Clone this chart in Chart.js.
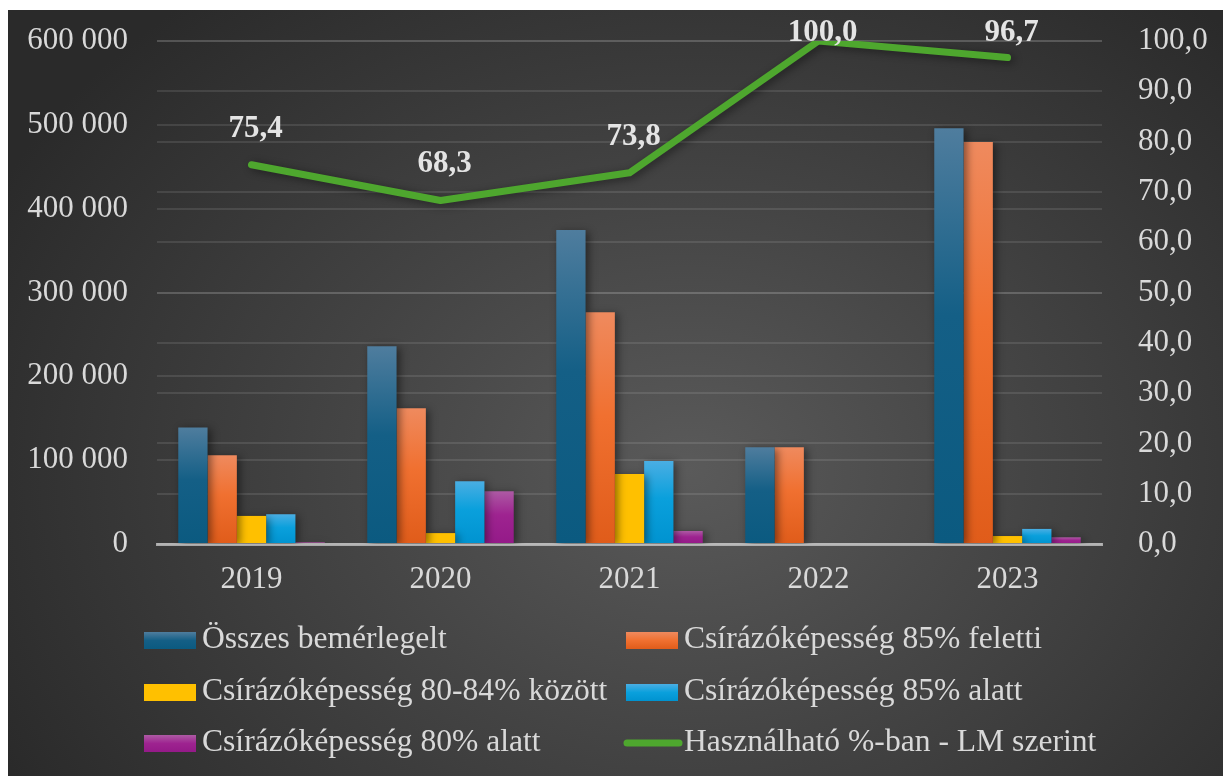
<!DOCTYPE html>
<html lang="hu">
<head>
<meta charset="utf-8">
<title>Vetőmag csírázóképesség</title>
<script src="https://cdn.jsdelivr.net/npm/chart.js@4/dist/chart.umd.min.js"></script>
<style>
  html, body { margin: 0; padding: 0; background: #fff; }
  #wrap {
    position: absolute; left: 8px; top: 10px; width: 1215px; height: 766px;
    background: radial-gradient(ellipse 64% 80% at 56% 60%, #5a5a5a 0%, #444 45%, #2a2a2a 100%);
  }
</style>
</head>
<body>
<div id="wrap"><canvas id="seedChart" width="1215" height="766"></canvas></div>
<script>
const years = ["2019", "2020", "2021", "2022", "2023"];
const osszesBemerlegelt = [139000, 236000, 374500, 115500, 496000];
const felett85 = [106000, 162000, 276500, 115500, 479500];
const kozott80_84 = [33500, 13000, 83500, 0, 9500];
const alatt85 = [35500, 75000, 99000, 0, 18000];
const alatt80 = [2000, 63000, 15500, 0, 8000];
const hasznalhatoLM = [75.4, 68.3, 73.8, 100.0, 96.7];

const FONT = "'Liberation Serif', 'Times New Roman', serif";
const TEXT = "#d9d9d9";

// vertical gradient per bar, light at the top
function barFill(stops) {
    return function (ctx) {
        const chart = ctx.chart;
        const y = chart.scales.y;
        if (ctx.type !== "data" || !chart.chartArea || !y) return stops[1];
        const top = y.getPixelForValue(ctx.raw);
        const bottom = y.getPixelForValue(0);
        if (!(bottom - top > 1)) return stops[1];
        const g = chart.ctx.createLinearGradient(0, top, 0, bottom);
        g.addColorStop(0, stops[0]);
        g.addColorStop(0.45, stops[1]);
        g.addColorStop(1, stops[2]);
        return g;
    };
}

const blue = ["#4f7d9e", "#145f86", "#0b5a80"];
const orange = ["#ef8a5e", "#f07030", "#e05c1a"];
const yellow = ["#ffc000", "#ffc000", "#ffc000"];
const cyan = ["#4aaee3", "#0aa0dc", "#0093d0"];
const purple = ["#ad5aa4", "#9e2390", "#941a88"];
const green = "#4ea72e";

function spaced(v) {
    return String(v).replace(/\B(?=(\d{3})+(?!\d))/g, " ");
}

// soft drop shadow under bars and the line
const shadowPlugin = {
    id: "shadow",
    beforeDatasetDraw(chart) {
        const c = chart.ctx;
        c.save();
        c.shadowColor = "rgba(0,0,0,0.45)";
        c.shadowBlur = 8;
        c.shadowOffsetX = 3;
        c.shadowOffsetY = 2;
    },
    afterDatasetDraw(chart) {
        chart.ctx.restore();
    }
};

// value labels above the line points
const lineLabels = {
    id: "lineLabels",
    afterDatasetsDraw(chart) {
        const c = chart.ctx;
        const idx = chart.data.datasets.findIndex(d => d.type === "line");
        const meta = chart.getDatasetMeta(idx);
        c.save();
        c.font = "bold 31px " + FONT;
        c.fillStyle = "#e4e4e4";
        c.textAlign = "center";
        c.textBaseline = "middle";
        meta.data.forEach((pt, i) => {
            const y = Math.max(pt.y - 36, chart.chartArea.top - 8);
            c.fillText(hasznalhatoLM[i].toFixed(1).replace(".", ","), pt.x + 4, y);
        });
        c.restore();
    }
};

// two-column legend under the plot
const gridLegend = {
    id: "gridLegend",
    afterDraw(chart) {
        const c = chart.ctx;
        const cols = [136, 618];
        const rows = [630, 682, 733];
        c.save();
        c.font = "31.6px " + FONT;
        c.fillStyle = TEXT;
        c.textBaseline = "middle";
        chart.data.datasets.forEach((ds, i) => {
            const x = cols[i % 2];
            const y = rows[Math.floor(i / 2)];
            if (ds.type === "line") {
                c.strokeStyle = ds.borderColor;
                c.lineWidth = 7;
                c.lineCap = "round";
                c.beginPath();
                c.moveTo(x + 1, y);
                c.lineTo(x + 53, y);
                c.stroke();
            } else {
                const g = c.createLinearGradient(0, y - 8, 0, y + 9);
                g.addColorStop(0, ds.swatch[0]);
                g.addColorStop(0.5, ds.swatch[1]);
                g.addColorStop(1, ds.swatch[2]);
                c.fillStyle = g;
                c.fillRect(x, y - 8, 52, 17);
            }
            c.fillStyle = TEXT;
            c.fillText(ds.label, x + 58, y);
        });
        c.restore();
    }
};

function bars(label, values, stops) {
    return {
        type: "bar",
        label: label,
        data: values,
        yAxisID: "y",
        backgroundColor: barFill(stops),
        swatch: stops,
        borderWidth: 0,
        categoryPercentage: 0.775,
        barPercentage: 1.0,
        order: 2
    };
}

new Chart(document.getElementById("seedChart"), {
    data: {
        labels: years,
        datasets: [
            bars("Összes bemérlegelt", osszesBemerlegelt, blue),
            bars("Csírázóképesség 85% feletti", felett85, orange),
            bars("Csírázóképesség 80-84% között", kozott80_84, yellow),
            bars("Csírázóképesség 85% alatt", alatt85, cyan),
            bars("Csírázóképesség 80% alatt", alatt80, purple),
            {
                type: "line",
                label: "Használható %-ban - LM szerint",
                data: hasznalhatoLM,
                yAxisID: "y2",
                borderColor: green,
                borderWidth: 7,
                borderCapStyle: "round",
                borderJoinStyle: "round",
                pointRadius: 0,
                tension: 0,
                order: 1
            }
        ]
    },
    options: {
        responsive: false,
        animation: false,
        layout: { padding: { top: 31, bottom: 172, left: 0, right: 0 } },
        plugins: {
            legend: { display: false },
            tooltip: { enabled: false }
        },
        scales: {
            x: {
                z: 1,
                grid: { display: false, drawTicks: false },
                border: { display: true, color: "rgba(215,215,215,0.7)", width: 3 },
                ticks: { color: TEXT, font: { family: FONT, size: 31 }, padding: 17 },
                afterFit(scale) { scale.height = 60; }
            },
            // the gap between plot and labels comes from an invisible tick mark,
            // so the tick padding does not push the plot area down
            y: {
                position: "left",
                min: 0,
                max: 600000,
                grid: { color: "rgba(255,255,255,0.1)", lineWidth: 2, tickLength: 29, tickColor: "transparent" },
                border: { display: false },
                ticks: {
                    stepSize: 100000,
                    color: TEXT,
                    font: { family: FONT, size: 31 },
                    padding: 0,
                    callback: v => spaced(v)
                },
                afterFit(scale) { scale.width = 149; }
            },
            y2: {
                position: "right",
                min: 0,
                max: 100,
                grid: { color: "rgba(255,255,255,0.1)", lineWidth: 2, tickLength: 36, tickColor: "transparent" },
                border: { display: false },
                ticks: {
                    stepSize: 10,
                    color: TEXT,
                    font: { family: FONT, size: 31 },
                    padding: 0,
                    callback: v => v.toFixed(1).replace(".", ",")
                },
                afterFit(scale) { scale.width = 121; }
            }
        }
    },
    plugins: [shadowPlugin, lineLabels, gridLegend]
});
</script>
</body>
</html>
